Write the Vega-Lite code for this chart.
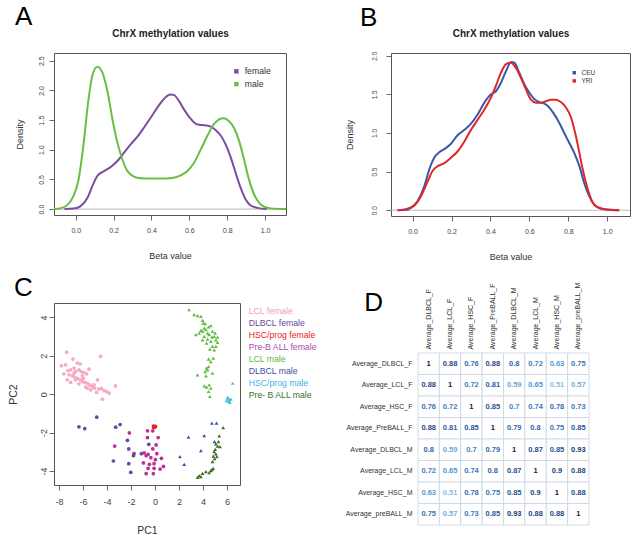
{
  "$schema": "https://vega.github.io/schema/vega-lite/v6.json",
  "background": "white",
  "padding": {"left": 7, "top": 3, "right": 5, "bottom": 5},
  "config": {
    "font": "Liberation Sans",
    "view": {"stroke": "#555555", "strokeWidth": 1},
    "axis": {"grid": false, "domain": false, "tickColor": "#666666", "tickSize": 5, "labelColor": "#444444", "titleColor": "#333333", "titleFontWeight": "normal", "labelFlush": false, "labelOverlap": false, "labelFont": "Liberation Sans", "titleFont": "Liberation Sans"},
    "legend": {"labelFont": "Liberation Sans"},
    "title": {"font": "Liberation Sans"}
  },
  "datasets": {
    "densA": [
      {"beta": -0.06, "density": 0, "sex": "female"}, {"beta": -0.01, "density": 0.01, "sex": "female"}, {"beta": 0.026, "density": 0.05, "sex": "female"}, {"beta": 0.062, "density": 0.19, "sex": "female"}, {"beta": 0.088, "density": 0.39, "sex": "female"}, {"beta": 0.114, "density": 0.56, "sex": "female"}, {"beta": 0.15, "density": 0.64, "sex": "female"}, {"beta": 0.185, "density": 0.71, "sex": "female"}, {"beta": 0.22, "density": 0.81, "sex": "female"}, {"beta": 0.255, "density": 0.95, "sex": "female"}, {"beta": 0.29, "density": 1.09, "sex": "female"}, {"beta": 0.326, "density": 1.22, "sex": "female"}, {"beta": 0.36, "density": 1.37, "sex": "female"}, {"beta": 0.396, "density": 1.54, "sex": "female"}, {"beta": 0.431, "density": 1.71, "sex": "female"}, {"beta": 0.467, "density": 1.86, "sex": "female"}, {"beta": 0.5, "density": 1.93, "sex": "female"}, {"beta": 0.52, "density": 1.92, "sex": "female"}, {"beta": 0.546, "density": 1.82, "sex": "female"}, {"beta": 0.572, "density": 1.68, "sex": "female"}, {"beta": 0.6, "density": 1.55, "sex": "female"}, {"beta": 0.625, "density": 1.46, "sex": "female"}, {"beta": 0.651, "density": 1.42, "sex": "female"}, {"beta": 0.687, "density": 1.41, "sex": "female"}, {"beta": 0.713, "density": 1.39, "sex": "female"}, {"beta": 0.74, "density": 1.33, "sex": "female"}, {"beta": 0.766, "density": 1.24, "sex": "female"}, {"beta": 0.792, "density": 1.09, "sex": "female"}, {"beta": 0.819, "density": 0.87, "sex": "female"}, {"beta": 0.845, "density": 0.61, "sex": "female"}, {"beta": 0.871, "density": 0.36, "sex": "female"}, {"beta": 0.898, "density": 0.16, "sex": "female"}, {"beta": 0.924, "density": 0.06, "sex": "female"}, {"beta": 0.96, "density": 0.02, "sex": "female"}, {"beta": 1.01, "density": 0, "sex": "female"},
      {"beta": -0.114, "density": 0, "sex": "male"}, {"beta": -0.079, "density": 0.015, "sex": "male"}, {"beta": -0.044, "density": 0.07, "sex": "male"}, {"beta": -0.015, "density": 0.2, "sex": "male"}, {"beta": 0.015, "density": 0.5, "sex": "male"}, {"beta": 0.04, "density": 1.06, "sex": "male"}, {"beta": 0.065, "density": 1.79, "sex": "male"}, {"beta": 0.09, "density": 2.28, "sex": "male"}, {"beta": 0.114, "density": 2.4, "sex": "male"}, {"beta": 0.141, "density": 2.3, "sex": "male"}, {"beta": 0.167, "density": 1.99, "sex": "male"}, {"beta": 0.194, "density": 1.51, "sex": "male"}, {"beta": 0.22, "density": 1.12, "sex": "male"}, {"beta": 0.246, "density": 0.84, "sex": "male"}, {"beta": 0.273, "density": 0.64, "sex": "male"}, {"beta": 0.308, "density": 0.545, "sex": "male"}, {"beta": 0.343, "density": 0.52, "sex": "male"}, {"beta": 0.4, "density": 0.515, "sex": "male"}, {"beta": 0.45, "density": 0.515, "sex": "male"}, {"beta": 0.51, "density": 0.525, "sex": "male"}, {"beta": 0.555, "density": 0.567, "sex": "male"}, {"beta": 0.59, "density": 0.64, "sex": "male"}, {"beta": 0.625, "density": 0.78, "sex": "male"}, {"beta": 0.66, "density": 1.0, "sex": "male"}, {"beta": 0.695, "density": 1.23, "sex": "male"}, {"beta": 0.73, "density": 1.43, "sex": "male"}, {"beta": 0.757, "density": 1.51, "sex": "male"}, {"beta": 0.783, "density": 1.53, "sex": "male"}, {"beta": 0.81, "density": 1.48, "sex": "male"}, {"beta": 0.836, "density": 1.37, "sex": "male"}, {"beta": 0.863, "density": 1.15, "sex": "male"}, {"beta": 0.889, "density": 0.84, "sex": "male"}, {"beta": 0.915, "density": 0.5, "sex": "male"}, {"beta": 0.942, "density": 0.25, "sex": "male"}, {"beta": 0.968, "density": 0.11, "sex": "male"}, {"beta": 0.995, "density": 0.04, "sex": "male"}, {"beta": 1.03, "density": 0.01, "sex": "male"}, {"beta": 1.111, "density": 0, "sex": "male"}
    ],
    "densB": [
      {"beta": -0.077, "density": 0, "pop": "CEU"}, {"beta": -0.03, "density": 0.005, "pop": "CEU"}, {"beta": -0.009, "density": 0.03, "pop": "CEU"}, {"beta": 0.026, "density": 0.12, "pop": "CEU"}, {"beta": 0.06, "density": 0.31, "pop": "CEU"}, {"beta": 0.086, "density": 0.53, "pop": "CEU"}, {"beta": 0.111, "density": 0.68, "pop": "CEU"}, {"beta": 0.137, "density": 0.75, "pop": "CEU"}, {"beta": 0.163, "density": 0.79, "pop": "CEU"}, {"beta": 0.197, "density": 0.86, "pop": "CEU"}, {"beta": 0.231, "density": 0.97, "pop": "CEU"}, {"beta": 0.266, "density": 1.04, "pop": "CEU"}, {"beta": 0.3, "density": 1.12, "pop": "CEU"}, {"beta": 0.334, "density": 1.24, "pop": "CEU"}, {"beta": 0.368, "density": 1.39, "pop": "CEU"}, {"beta": 0.403, "density": 1.5, "pop": "CEU"}, {"beta": 0.428, "density": 1.54, "pop": "CEU"}, {"beta": 0.454, "density": 1.65, "pop": "CEU"}, {"beta": 0.48, "density": 1.8, "pop": "CEU"}, {"beta": 0.506, "density": 1.92, "pop": "CEU"}, {"beta": 0.523, "density": 1.91, "pop": "CEU"}, {"beta": 0.548, "density": 1.78, "pop": "CEU"}, {"beta": 0.574, "density": 1.63, "pop": "CEU"}, {"beta": 0.6, "density": 1.52, "pop": "CEU"}, {"beta": 0.625, "density": 1.44, "pop": "CEU"}, {"beta": 0.651, "density": 1.4, "pop": "CEU"}, {"beta": 0.677, "density": 1.38, "pop": "CEU"}, {"beta": 0.702, "density": 1.33, "pop": "CEU"}, {"beta": 0.728, "density": 1.24, "pop": "CEU"}, {"beta": 0.754, "density": 1.13, "pop": "CEU"}, {"beta": 0.779, "density": 1.0, "pop": "CEU"}, {"beta": 0.805, "density": 0.87, "pop": "CEU"}, {"beta": 0.831, "density": 0.74, "pop": "CEU"}, {"beta": 0.857, "density": 0.57, "pop": "CEU"}, {"beta": 0.882, "density": 0.35, "pop": "CEU"}, {"beta": 0.908, "density": 0.18, "pop": "CEU"}, {"beta": 0.934, "density": 0.07, "pop": "CEU"}, {"beta": 0.968, "density": 0.02, "pop": "CEU"}, {"beta": 1.02, "density": 0.005, "pop": "CEU"}, {"beta": 1.06, "density": 0, "pop": "CEU"},
      {"beta": -0.077, "density": 0, "pop": "YRI"}, {"beta": -0.026, "density": 0.02, "pop": "YRI"}, {"beta": 0.009, "density": 0.06, "pop": "YRI"}, {"beta": 0.043, "density": 0.18, "pop": "YRI"}, {"beta": 0.077, "density": 0.37, "pop": "YRI"}, {"beta": 0.103, "density": 0.51, "pop": "YRI"}, {"beta": 0.129, "density": 0.57, "pop": "YRI"}, {"beta": 0.163, "density": 0.61, "pop": "YRI"}, {"beta": 0.197, "density": 0.68, "pop": "YRI"}, {"beta": 0.231, "density": 0.76, "pop": "YRI"}, {"beta": 0.266, "density": 0.89, "pop": "YRI"}, {"beta": 0.3, "density": 1.04, "pop": "YRI"}, {"beta": 0.334, "density": 1.17, "pop": "YRI"}, {"beta": 0.368, "density": 1.3, "pop": "YRI"}, {"beta": 0.403, "density": 1.46, "pop": "YRI"}, {"beta": 0.428, "density": 1.61, "pop": "YRI"}, {"beta": 0.454, "density": 1.78, "pop": "YRI"}, {"beta": 0.48, "density": 1.89, "pop": "YRI"}, {"beta": 0.506, "density": 1.91, "pop": "YRI"}, {"beta": 0.531, "density": 1.84, "pop": "YRI"}, {"beta": 0.557, "density": 1.71, "pop": "YRI"}, {"beta": 0.583, "density": 1.56, "pop": "YRI"}, {"beta": 0.608, "density": 1.43, "pop": "YRI"}, {"beta": 0.634, "density": 1.39, "pop": "YRI"}, {"beta": 0.66, "density": 1.39, "pop": "YRI"}, {"beta": 0.685, "density": 1.41, "pop": "YRI"}, {"beta": 0.711, "density": 1.43, "pop": "YRI"}, {"beta": 0.737, "density": 1.43, "pop": "YRI"}, {"beta": 0.762, "density": 1.4, "pop": "YRI"}, {"beta": 0.788, "density": 1.33, "pop": "YRI"}, {"beta": 0.814, "density": 1.2, "pop": "YRI"}, {"beta": 0.839, "density": 0.96, "pop": "YRI"}, {"beta": 0.857, "density": 0.74, "pop": "YRI"}, {"beta": 0.874, "density": 0.53, "pop": "YRI"}, {"beta": 0.9, "density": 0.27, "pop": "YRI"}, {"beta": 0.925, "density": 0.1, "pop": "YRI"}, {"beta": 0.951, "density": 0.04, "pop": "YRI"}, {"beta": 0.994, "density": 0.01, "pop": "YRI"}, {"beta": 1.062, "density": 0, "pop": "YRI"}
    ],
    "pca": [
      {"pc1": -7.36, "pc2": 2.19, "group": "LCL female"}, {"pc1": -6.83, "pc2": 1.83, "group": "LCL female"}, {"pc1": -6.47, "pc2": 1.62, "group": "LCL female"}, {"pc1": -6.24, "pc2": 1.58, "group": "LCL female"}, {"pc1": -7.8, "pc2": 1.48, "group": "LCL female"}, {"pc1": -7.44, "pc2": 1.53, "group": "LCL female"}, {"pc1": -7.25, "pc2": 1.23, "group": "LCL female"}, {"pc1": -7.02, "pc2": 1.27, "group": "LCL female"}, {"pc1": -6.74, "pc2": 1.36, "group": "LCL female"}, {"pc1": -6.61, "pc2": 1.18, "group": "LCL female"}, {"pc1": -6.33, "pc2": 1.27, "group": "LCL female"}, {"pc1": -6.13, "pc2": 1.18, "group": "LCL female"}, {"pc1": -5.91, "pc2": 1.13, "group": "LCL female"}, {"pc1": -5.69, "pc2": 1.06, "group": "LCL female"}, {"pc1": -5.49, "pc2": 1.3, "group": "LCL female"}, {"pc1": -4.52, "pc2": 1.97, "group": "LCL female"}, {"pc1": -7.58, "pc2": 1.06, "group": "LCL female"}, {"pc1": -7.16, "pc2": 1.01, "group": "LCL female"}, {"pc1": -6.88, "pc2": 0.96, "group": "LCL female"}, {"pc1": -6.69, "pc2": 0.89, "group": "LCL female"}, {"pc1": -6.47, "pc2": 0.82, "group": "LCL female"}, {"pc1": -6.24, "pc2": 0.75, "group": "LCL female"}, {"pc1": -6.05, "pc2": 0.66, "group": "LCL female"}, {"pc1": -5.85, "pc2": 0.61, "group": "LCL female"}, {"pc1": -5.63, "pc2": 0.57, "group": "LCL female"}, {"pc1": -5.41, "pc2": 0.47, "group": "LCL female"}, {"pc1": -5.21, "pc2": 0.4, "group": "LCL female"}, {"pc1": -5.02, "pc2": 0.31, "group": "LCL female"}, {"pc1": -4.79, "pc2": 0.75, "group": "LCL female"}, {"pc1": -4.66, "pc2": 0.26, "group": "LCL female"}, {"pc1": -4.46, "pc2": 0.3, "group": "LCL female"}, {"pc1": -4.24, "pc2": 0.19, "group": "LCL female"}, {"pc1": -4.02, "pc2": 0.14, "group": "LCL female"}, {"pc1": -3.82, "pc2": 0.05, "group": "LCL female"}, {"pc1": -3.29, "pc2": 0.43, "group": "LCL female"}, {"pc1": -4.38, "pc2": -0.26, "group": "LCL female"}, {"pc1": -7.3, "pc2": 0.75, "group": "LCL female"}, {"pc1": -7.02, "pc2": 0.61, "group": "LCL female"}, {"pc1": -6.61, "pc2": 0.75, "group": "LCL female"}, {"pc1": -6.33, "pc2": 0.54, "group": "LCL female"}, {"pc1": -5.97, "pc2": 0.83, "group": "LCL female"}, {"pc1": -5.77, "pc2": 0.37, "group": "LCL female"}, {"pc1": -5.35, "pc2": 0.23, "group": "LCL female"}, {"pc1": -5.08, "pc2": 0.49, "group": "LCL female"}, {"pc1": -5.63, "pc2": 0.31, "group": "LCL female"}, {"pc1": -4.86, "pc2": 0.09, "group": "LCL female"}, {"pc1": -6.74, "pc2": 1.1, "group": "LCL female"}, {"pc1": -6.05, "pc2": 0.96, "group": "LCL female"},
      {"pc1": -6.33, "pc2": -1.7, "group": "DLBCL female"}, {"pc1": -5.85, "pc2": -1.79, "group": "DLBCL female"}, {"pc1": -4.85, "pc2": -1.2, "group": "DLBCL female"}, {"pc1": -3.27, "pc2": -1.72, "group": "DLBCL female"}, {"pc1": -2.9, "pc2": -1.58, "group": "DLBCL female"}, {"pc1": -2.29, "pc2": -2.4, "group": "DLBCL female"}, {"pc1": -3.46, "pc2": -3.48, "group": "DLBCL female"}, {"pc1": -2.18, "pc2": -2.85, "group": "DLBCL female"}, {"pc1": -1.79, "pc2": -3.2, "group": "DLBCL female"}, {"pc1": -1.74, "pc2": -3.1, "group": "DLBCL female"}, {"pc1": -2.18, "pc2": -3.62, "group": "DLBCL female"}, {"pc1": -2.01, "pc2": -4.07, "group": "DLBCL female"}, {"pc1": -0.51, "pc2": -2.61, "group": "DLBCL female"}, {"pc1": -1.13, "pc2": -3.1, "group": "DLBCL female"},
      {"pc1": -0.12, "pc2": -1.66, "group": "HSC/prog female"}, {"pc1": 0.0, "pc2": -1.7, "group": "HSC/prog female"}, {"pc1": -0.05, "pc2": -1.72, "group": "HSC/prog female"}, {"pc1": 0.05, "pc2": -1.68, "group": "HSC/prog female"}, {"pc1": -0.1, "pc2": -1.73, "group": "HSC/prog female"},
      {"pc1": -2.13, "pc2": -2.02, "group": "Pre-B ALL female"}, {"pc1": -3.35, "pc2": -2.7, "group": "Pre-B ALL female"}, {"pc1": -0.62, "pc2": -1.91, "group": "Pre-B ALL female"}, {"pc1": -0.18, "pc2": -1.91, "group": "Pre-B ALL female"}, {"pc1": -0.62, "pc2": -2.26, "group": "Pre-B ALL female"}, {"pc1": 0.27, "pc2": -2.26, "group": "Pre-B ALL female"}, {"pc1": 0.1, "pc2": -2.64, "group": "Pre-B ALL female"}, {"pc1": -0.18, "pc2": -2.85, "group": "Pre-B ALL female"}, {"pc1": -0.9, "pc2": -3.06, "group": "Pre-B ALL female"}, {"pc1": -0.57, "pc2": -3.13, "group": "Pre-B ALL female"}, {"pc1": -0.73, "pc2": -3.2, "group": "Pre-B ALL female"}, {"pc1": 0.16, "pc2": -3.1, "group": "Pre-B ALL female"}, {"pc1": -0.34, "pc2": -3.31, "group": "Pre-B ALL female"}, {"pc1": 0.04, "pc2": -3.41, "group": "Pre-B ALL female"}, {"pc1": 0.54, "pc2": -3.34, "group": "Pre-B ALL female"}, {"pc1": -0.96, "pc2": -3.58, "group": "Pre-B ALL female"}, {"pc1": -0.46, "pc2": -3.65, "group": "Pre-B ALL female"}, {"pc1": -0.07, "pc2": -3.62, "group": "Pre-B ALL female"}, {"pc1": 0.43, "pc2": -3.9, "group": "Pre-B ALL female"}, {"pc1": 0.71, "pc2": -3.76, "group": "Pre-B ALL female"}, {"pc1": -0.57, "pc2": -3.86, "group": "Pre-B ALL female"}, {"pc1": -0.07, "pc2": -3.86, "group": "Pre-B ALL female"}, {"pc1": -0.73, "pc2": -4.14, "group": "Pre-B ALL female"}, {"pc1": -0.13, "pc2": -4.14, "group": "Pre-B ALL female"},
      {"pc1": 2.85, "pc2": 4.4, "group": "LCL male"}, {"pc1": 3.27, "pc2": 4.14, "group": "LCL male"}, {"pc1": 3.55, "pc2": 4.09, "group": "LCL male"}, {"pc1": 3.83, "pc2": 4.05, "group": "LCL male"}, {"pc1": 3.97, "pc2": 3.84, "group": "LCL male"}, {"pc1": 4.02, "pc2": 3.7, "group": "LCL male"}, {"pc1": 3.41, "pc2": 3.1, "group": "LCL male"}, {"pc1": 3.69, "pc2": 3.18, "group": "LCL male"}, {"pc1": 3.97, "pc2": 3.27, "group": "LCL male"}, {"pc1": 4.11, "pc2": 3.44, "group": "LCL male"}, {"pc1": 4.25, "pc2": 3.36, "group": "LCL male"}, {"pc1": 4.47, "pc2": 3.5, "group": "LCL male"}, {"pc1": 4.66, "pc2": 3.57, "group": "LCL male"}, {"pc1": 4.39, "pc2": 3.18, "group": "LCL male"}, {"pc1": 4.52, "pc2": 3.1, "group": "LCL male"}, {"pc1": 4.8, "pc2": 3.27, "group": "LCL male"}, {"pc1": 4.94, "pc2": 3.01, "group": "LCL male"}, {"pc1": 5.08, "pc2": 2.83, "group": "LCL male"}, {"pc1": 5.22, "pc2": 2.7, "group": "LCL male"}, {"pc1": 4.11, "pc2": 3.01, "group": "LCL male"}, {"pc1": 4.39, "pc2": 2.87, "group": "LCL male"}, {"pc1": 4.66, "pc2": 2.75, "group": "LCL male"}, {"pc1": 4.8, "pc2": 2.49, "group": "LCL male"}, {"pc1": 4.94, "pc2": 2.31, "group": "LCL male"}, {"pc1": 5.08, "pc2": 2.49, "group": "LCL male"}, {"pc1": 5.22, "pc2": 2.97, "group": "LCL male"}, {"pc1": 4.75, "pc2": 2.97, "group": "LCL male"}, {"pc1": 4.3, "pc2": 2.66, "group": "LCL male"}, {"pc1": 4.58, "pc2": 2.35, "group": "LCL male"}, {"pc1": 4.86, "pc2": 1.88, "group": "LCL male"}, {"pc1": 4.47, "pc2": 1.83, "group": "LCL male"}, {"pc1": 4.66, "pc2": 1.7, "group": "LCL male"}, {"pc1": 4.3, "pc2": 1.36, "group": "LCL male"}, {"pc1": 4.47, "pc2": 1.44, "group": "LCL male"}, {"pc1": 4.8, "pc2": 1.1, "group": "LCL male"}, {"pc1": 4.19, "pc2": 1.18, "group": "LCL male"}, {"pc1": 3.55, "pc2": 1.01, "group": "LCL male"}, {"pc1": 4.25, "pc2": 0.96, "group": "LCL male"}, {"pc1": 4.11, "pc2": 0.43, "group": "LCL male"}, {"pc1": 4.52, "pc2": 0.49, "group": "LCL male"}, {"pc1": 4.66, "pc2": 0.31, "group": "LCL male"}, {"pc1": 4.47, "pc2": 0.14, "group": "LCL male"}, {"pc1": 4.58, "pc2": -0.12, "group": "LCL male"}, {"pc1": 4.3, "pc2": 0.37, "group": "LCL male"}, {"pc1": 4.39, "pc2": 1.27, "group": "LCL male"}, {"pc1": 3.97, "pc2": 2.83, "group": "LCL male"}, {"pc1": 3.83, "pc2": 3.32, "group": "LCL male"}, {"pc1": 5.02, "pc2": 3.18, "group": "LCL male"}, {"pc1": 4.19, "pc2": 3.67, "group": "LCL male"},
      {"pc1": 4.75, "pc2": -1.51, "group": "DLBCL male"}, {"pc1": 5.13, "pc2": -1.51, "group": "DLBCL male"}, {"pc1": 2.8, "pc2": -2.24, "group": "DLBCL male"}, {"pc1": 4.11, "pc2": -2.16, "group": "DLBCL male"}, {"pc1": 3.83, "pc2": -2.94, "group": "DLBCL male"}, {"pc1": 2.08, "pc2": -3.25, "group": "DLBCL male"}, {"pc1": 2.44, "pc2": -3.65, "group": "DLBCL male"}, {"pc1": 4.97, "pc2": -2.47, "group": "DLBCL male"},
      {"pc1": 6.48, "pc2": 0.57, "group": "HSC/prog male"}, {"pc1": 6.05, "pc2": -0.21, "group": "HSC/prog male"}, {"pc1": 6.19, "pc2": -0.3, "group": "HSC/prog male"}, {"pc1": 5.97, "pc2": -0.33, "group": "HSC/prog male"}, {"pc1": 6.14, "pc2": -0.38, "group": "HSC/prog male"}, {"pc1": 6.33, "pc2": -0.26, "group": "HSC/prog male"}, {"pc1": 6.08, "pc2": -0.16, "group": "HSC/prog male"}, {"pc1": 6.25, "pc2": -0.43, "group": "HSC/prog male"},
      {"pc1": 5.69, "pc2": -1.74, "group": "Pre- B ALL male"}, {"pc1": 5.36, "pc2": -2.17, "group": "Pre- B ALL male"}, {"pc1": 5.3, "pc2": -2.47, "group": "Pre- B ALL male"}, {"pc1": 5.22, "pc2": -2.7, "group": "Pre- B ALL male"}, {"pc1": 5.08, "pc2": -2.59, "group": "Pre- B ALL male"}, {"pc1": 5.42, "pc2": -2.73, "group": "Pre- B ALL male"}, {"pc1": 5.02, "pc2": -2.87, "group": "Pre- B ALL male"}, {"pc1": 4.94, "pc2": -2.99, "group": "Pre- B ALL male"}, {"pc1": 5.08, "pc2": -3.11, "group": "Pre- B ALL male"}, {"pc1": 4.86, "pc2": -3.22, "group": "Pre- B ALL male"}, {"pc1": 4.97, "pc2": -3.36, "group": "Pre- B ALL male"}, {"pc1": 4.8, "pc2": -3.51, "group": "Pre- B ALL male"}, {"pc1": 4.86, "pc2": -3.86, "group": "Pre- B ALL male"}, {"pc1": 4.66, "pc2": -3.98, "group": "Pre- B ALL male"}, {"pc1": 4.52, "pc2": -4.09, "group": "Pre- B ALL male"}, {"pc1": 4.25, "pc2": -4.03, "group": "Pre- B ALL male"}, {"pc1": 3.97, "pc2": -4.12, "group": "Pre- B ALL male"}, {"pc1": 3.69, "pc2": -4.24, "group": "Pre- B ALL male"}, {"pc1": 3.55, "pc2": -4.33, "group": "Pre- B ALL male"}, {"pc1": 3.83, "pc2": -4.3, "group": "Pre- B ALL male"}, {"pc1": 5.16, "pc2": -3.25, "group": "Pre- B ALL male"}, {"pc1": 4.75, "pc2": -3.93, "group": "Pre- B ALL male"}
    ],
    "corr": [
      {"row": "Average_DLBCL_F", "col": "Average_DLBCL_F", "r": 1}, {"row": "Average_DLBCL_F", "col": "Average_LCL_F", "r": 0.88}, {"row": "Average_DLBCL_F", "col": "Average_HSC_F", "r": 0.76}, {"row": "Average_DLBCL_F", "col": "Average_PreBALL_F", "r": 0.88}, {"row": "Average_DLBCL_F", "col": "Average_DLBCL_M", "r": 0.8}, {"row": "Average_DLBCL_F", "col": "Average_LCL_M", "r": 0.72}, {"row": "Average_DLBCL_F", "col": "Average_HSC_M", "r": 0.63}, {"row": "Average_DLBCL_F", "col": "Average_preBALL_M", "r": 0.75},
      {"row": "Average_LCL_F", "col": "Average_DLBCL_F", "r": 0.88}, {"row": "Average_LCL_F", "col": "Average_LCL_F", "r": 1}, {"row": "Average_LCL_F", "col": "Average_HSC_F", "r": 0.72}, {"row": "Average_LCL_F", "col": "Average_PreBALL_F", "r": 0.81}, {"row": "Average_LCL_F", "col": "Average_DLBCL_M", "r": 0.59}, {"row": "Average_LCL_F", "col": "Average_LCL_M", "r": 0.65}, {"row": "Average_LCL_F", "col": "Average_HSC_M", "r": 0.51}, {"row": "Average_LCL_F", "col": "Average_preBALL_M", "r": 0.57},
      {"row": "Average_HSC_F", "col": "Average_DLBCL_F", "r": 0.76}, {"row": "Average_HSC_F", "col": "Average_LCL_F", "r": 0.72}, {"row": "Average_HSC_F", "col": "Average_HSC_F", "r": 1}, {"row": "Average_HSC_F", "col": "Average_PreBALL_F", "r": 0.85}, {"row": "Average_HSC_F", "col": "Average_DLBCL_M", "r": 0.7}, {"row": "Average_HSC_F", "col": "Average_LCL_M", "r": 0.74}, {"row": "Average_HSC_F", "col": "Average_HSC_M", "r": 0.78}, {"row": "Average_HSC_F", "col": "Average_preBALL_M", "r": 0.73},
      {"row": "Average_PreBALL_F", "col": "Average_DLBCL_F", "r": 0.88}, {"row": "Average_PreBALL_F", "col": "Average_LCL_F", "r": 0.81}, {"row": "Average_PreBALL_F", "col": "Average_HSC_F", "r": 0.85}, {"row": "Average_PreBALL_F", "col": "Average_PreBALL_F", "r": 1}, {"row": "Average_PreBALL_F", "col": "Average_DLBCL_M", "r": 0.79}, {"row": "Average_PreBALL_F", "col": "Average_LCL_M", "r": 0.8}, {"row": "Average_PreBALL_F", "col": "Average_HSC_M", "r": 0.75}, {"row": "Average_PreBALL_F", "col": "Average_preBALL_M", "r": 0.85},
      {"row": "Average_DLBCL_M", "col": "Average_DLBCL_F", "r": 0.8}, {"row": "Average_DLBCL_M", "col": "Average_LCL_F", "r": 0.59}, {"row": "Average_DLBCL_M", "col": "Average_HSC_F", "r": 0.7}, {"row": "Average_DLBCL_M", "col": "Average_PreBALL_F", "r": 0.79}, {"row": "Average_DLBCL_M", "col": "Average_DLBCL_M", "r": 1}, {"row": "Average_DLBCL_M", "col": "Average_LCL_M", "r": 0.87}, {"row": "Average_DLBCL_M", "col": "Average_HSC_M", "r": 0.85}, {"row": "Average_DLBCL_M", "col": "Average_preBALL_M", "r": 0.93},
      {"row": "Average_LCL_M", "col": "Average_DLBCL_F", "r": 0.72}, {"row": "Average_LCL_M", "col": "Average_LCL_F", "r": 0.65}, {"row": "Average_LCL_M", "col": "Average_HSC_F", "r": 0.74}, {"row": "Average_LCL_M", "col": "Average_PreBALL_F", "r": 0.8}, {"row": "Average_LCL_M", "col": "Average_DLBCL_M", "r": 0.87}, {"row": "Average_LCL_M", "col": "Average_LCL_M", "r": 1}, {"row": "Average_LCL_M", "col": "Average_HSC_M", "r": 0.9}, {"row": "Average_LCL_M", "col": "Average_preBALL_M", "r": 0.88},
      {"row": "Average_HSC_M", "col": "Average_DLBCL_F", "r": 0.63}, {"row": "Average_HSC_M", "col": "Average_LCL_F", "r": 0.51}, {"row": "Average_HSC_M", "col": "Average_HSC_F", "r": 0.78}, {"row": "Average_HSC_M", "col": "Average_PreBALL_F", "r": 0.75}, {"row": "Average_HSC_M", "col": "Average_DLBCL_M", "r": 0.85}, {"row": "Average_HSC_M", "col": "Average_LCL_M", "r": 0.9}, {"row": "Average_HSC_M", "col": "Average_HSC_M", "r": 1}, {"row": "Average_HSC_M", "col": "Average_preBALL_M", "r": 0.88},
      {"row": "Average_preBALL_M", "col": "Average_DLBCL_F", "r": 0.75}, {"row": "Average_preBALL_M", "col": "Average_LCL_F", "r": 0.57}, {"row": "Average_preBALL_M", "col": "Average_HSC_F", "r": 0.73}, {"row": "Average_preBALL_M", "col": "Average_PreBALL_F", "r": 0.85}, {"row": "Average_preBALL_M", "col": "Average_DLBCL_M", "r": 0.93}, {"row": "Average_preBALL_M", "col": "Average_LCL_M", "r": 0.88}, {"row": "Average_preBALL_M", "col": "Average_HSC_M", "r": 0.88}, {"row": "Average_preBALL_M", "col": "Average_preBALL_M", "r": 1}
    ]
  },
  "spacing": 25,
  "resolve": {"scale": {"color": "independent", "shape": "independent", "size": "independent"}, "legend": {"color": "independent", "shape": "independent", "size": "independent"}},
  "hconcat": [
    {
      "spacing": 13,
      "resolve": {"scale": {"color": "independent", "shape": "independent", "size": "independent"}, "legend": {"color": "independent", "shape": "independent", "size": "independent"}},
      "vconcat": [
        {
          "width": 232, "height": 162,
          "title": {"text": "A", "anchor": "start", "fontSize": 26, "fontWeight": "normal", "color": "#000000", "offset": -2, "dx": 0},
          "data": {"name": "densA"},
          "layer": [
            {
              "data": {"values": [{}]},
              "mark": {"type": "rule", "color": "#bbbbbb", "strokeWidth": 1},
              "encoding": {
                "x": {"datum": -0.115, "type": "quantitative", "axis": {"orient": "top", "title": "ChrX methylation values", "labels": false, "ticks": false, "titleFontSize": 10, "titleFontWeight": "bold", "titleColor": "#222222", "titlePadding": 15}},
                "x2": {"datum": 1.111},
                "y": {"datum": 0, "type": "quantitative", "axis": null}
              }
            },
            {
              "mark": {"type": "line", "strokeWidth": 2, "interpolate": "monotone"},
              "encoding": {
                "x": {"field": "beta", "type": "quantitative", "scale": {"domain": [-0.115, 1.111], "nice": false, "zero": false}, "axis": {"values": [0, 0.2, 0.4, 0.6, 0.8, 1.0], "format": ".1f", "title": "Beta value", "labelFontSize": 7, "labelPadding": 6, "titleFontSize": 9, "titlePadding": 18}},
                "y": {"field": "density", "type": "quantitative", "scale": {"domain": [-0.1, 2.63], "nice": false, "zero": false}, "axis": {"values": [0, 0.5, 1, 1.5, 2, 2.5], "format": ".1f", "labelAngle": -90, "title": "Density", "labelFontSize": 7, "labelPadding": 5, "titleFontSize": 9, "titlePadding": 13}},
                "color": {"field": "sex", "type": "nominal", "scale": {"domain": ["female", "male"], "range": ["#7b4ea3", "#6cbd45"]}, "legend": {"orient": "none", "legendX": 178, "legendY": 14, "title": null, "symbolType": "square", "symbolSize": 20, "symbolStrokeWidth": 0, "labelFontSize": 8.7, "labelColor": "#333333", "rowPadding": 2.8, "labelOffset": 4, "encoding": {"symbols": {"fill": {"condition": {"test": "datum.value === 'female'", "value": "#7b4ea3"}, "value": "#6cbd45"}}}}}
              }
            }
          ],
          "resolve": {"axis": {"x": "independent", "y": "independent"}}
        },
        {
          "width": 186, "height": 182,
          "title": {"text": "C", "anchor": "start", "fontSize": 26, "fontWeight": "normal", "color": "#000000", "offset": 2, "dx": 6},
          "data": {"name": "pca"},
          "mark": {"type": "point", "filled": true, "opacity": 1},
          "encoding": {
            "x": {"field": "pc1", "type": "quantitative", "scale": {"domain": [-8.41, 7.09], "nice": false, "zero": false}, "axis": {"values": [-8, -6, -4, -2, 0, 2, 4, 6], "labelExpr": "'' + datum.value", "title": "PC1", "labelFontSize": 9, "labelPadding": 7, "titleFontSize": 10.5, "titlePadding": 19}},
            "y": {"field": "pc2", "type": "quantitative", "scale": {"domain": [-4.73, 4.75], "nice": false, "zero": false}, "axis": {"values": [-4, -2, 0, 2, 4], "labelExpr": "'' + datum.value", "labelAngle": -90, "title": "PC2", "labelFontSize": 9, "labelPadding": 1, "titleFontSize": 10.5, "titlePadding": 21}},
            "color": {"field": "group", "type": "nominal", "scale": {"domain": ["LCL female", "DLBCL female", "HSC/prog female", "Pre-B ALL female", "LCL male", "DLBCL male", "HSC/prog male", "Pre- B ALL male"], "range": ["#f5aac6", "#6a48a0", "#e8231f", "#bb3093", "#5cbb3e", "#3a4ea6", "#44c0d6", "#3d6b1f"]}, "legend": {"orient": "none", "legendX": 186, "legendY": 4, "title": null, "symbolSize": 0, "symbolOpacity": 0, "symbolStrokeWidth": 0, "labelOffset": 0, "labelFontSize": 8.7, "rowPadding": 2, "encoding": {"labels": {"fill": {"condition": [{"test": "datum.value === 'LCL female'", "value": "#f29bbe"}, {"test": "datum.value === 'DLBCL female'", "value": "#6a48a0"}, {"test": "datum.value === 'HSC/prog female'", "value": "#e8231f"}, {"test": "datum.value === 'Pre-B ALL female'", "value": "#b046aa"}, {"test": "datum.value === 'LCL male'", "value": "#5cbb3e"}, {"test": "datum.value === 'DLBCL male'", "value": "#3a4ea6"}, {"test": "datum.value === 'HSC/prog male'", "value": "#3fb4e4"}], "value": "#3d6b1f"}}}}},
            "shape": {"field": "group", "type": "nominal", "scale": {"domain": ["LCL female", "DLBCL female", "HSC/prog female", "Pre-B ALL female", "LCL male", "DLBCL male", "HSC/prog male", "Pre- B ALL male"], "range": ["circle", "circle", "circle", "circle", "triangle-up", "triangle-up", "triangle-up", "triangle-up"]}, "legend": null},
            "size": {"field": "group", "type": "nominal", "scale": {"domain": ["LCL female", "DLBCL female", "HSC/prog female", "Pre-B ALL female", "LCL male", "DLBCL male", "HSC/prog male", "Pre- B ALL male"], "range": [14, 14, 14, 14, 42, 42, 42, 42]}, "legend": null}
          }
        }
      ]
    },
    {
      "spacing": 20,
      "resolve": {"scale": {"color": "independent"}, "legend": {"color": "independent"}},
      "vconcat": [
        {
          "width": 239, "height": 163,
          "title": {"text": "B", "anchor": "start", "fontSize": 26, "fontWeight": "normal", "color": "#000000", "offset": -2, "dx": 15},
          "data": {"name": "densB"},
          "layer": [
            {
              "data": {"values": [{}]},
              "mark": {"type": "rule", "color": "#bbbbbb", "strokeWidth": 1},
              "encoding": {
                "x": {"datum": -0.111, "type": "quantitative", "axis": {"orient": "top", "title": "ChrX methylation values", "labels": false, "ticks": false, "titleFontSize": 10, "titleFontWeight": "bold", "titleColor": "#222222", "titlePadding": 14.5}},
                "x2": {"datum": 1.117},
                "y": {"datum": 0, "type": "quantitative", "axis": null}
              }
            },
            {
              "mark": {"type": "line", "strokeWidth": 2, "interpolate": "monotone"},
              "encoding": {
                "x": {"field": "beta", "type": "quantitative", "scale": {"domain": [-0.111, 1.117], "nice": false, "zero": false}, "axis": {"values": [0, 0.2, 0.4, 0.6, 0.8, 1.0], "format": ".1f", "title": "Beta value", "labelFontSize": 7, "labelPadding": 6, "titleFontSize": 9, "titlePadding": 18}},
                "y": {"field": "density", "type": "quantitative", "scale": {"domain": [-0.075, 2.035], "nice": false, "zero": false}, "axis": {"values": [0, 0.5, 1, 1.5, 2], "format": ".1f", "labelAngle": -90, "title": "Density", "labelFontSize": 6.5, "labelPadding": 8.4, "titleFontSize": 9, "titlePadding": 17.5}},
                "color": {"field": "pop", "type": "nominal", "scale": {"domain": ["CEU", "YRI"], "range": ["#3a58a8", "#e0262c"]}, "legend": {"orient": "none", "legendX": 180, "legendY": 16.5, "title": null, "symbolType": "square", "symbolSize": 12, "symbolStrokeWidth": 0, "labelFontSize": 6.5, "labelColor": "#333333", "rowPadding": 1.1, "labelOffset": 4, "encoding": {"symbols": {"fill": {"condition": {"test": "datum.value === 'CEU'", "value": "#3a58a8"}, "value": "#e0262c"}}}}}
              }
            }
          ],
          "resolve": {"axis": {"x": "independent", "y": "independent"}}
        },
        {
          "width": 198, "height": 172,
          "title": {"text": "D", "anchor": "start", "fontSize": 26, "fontWeight": "normal", "color": "#000000", "offset": -34, "dx": 19},
          "view": {"stroke": null},
          "data": {"name": "corr"},
          "encoding": {
            "x": {"field": "col", "type": "nominal", "sort": ["Average_DLBCL_F", "Average_LCL_F", "Average_HSC_F", "Average_PreBALL_F", "Average_DLBCL_M", "Average_LCL_M", "Average_HSC_M", "Average_preBALL_M"], "scale": {"paddingInner": 0, "paddingOuter": 0, "range": [27, 198]}, "axis": {"orient": "top", "labelAngle": -90, "title": null, "ticks": false, "labelPadding": 4, "labelFontSize": 7, "labelColor": "#333333"}},
            "y": {"field": "row", "type": "nominal", "sort": ["Average_DLBCL_F", "Average_LCL_F", "Average_HSC_F", "Average_PreBALL_F", "Average_DLBCL_M", "Average_LCL_M", "Average_HSC_M", "Average_preBALL_M"], "scale": {"paddingInner": 0, "paddingOuter": 0}, "axis": {"offset": -27, "title": null, "ticks": false, "labelPadding": 6, "labelFontSize": 7, "labelColor": "#333333"}}
          },
          "layer": [
            {"mark": {"type": "rect", "fill": "#ffffff", "stroke": "#c8d4e0", "strokeWidth": 0.8}},
            {"mark": {"type": "text", "fontWeight": "bold", "fontSize": 7.5}, "encoding": {"text": {"field": "r", "type": "quantitative"}, "color": {"field": "r", "type": "quantitative", "scale": {"domain": [0.5, 0.65, 0.8, 0.9, 1], "range": ["#8ec3e6", "#4f96d0", "#2f64a8", "#23427f", "#16203f"]}, "legend": null}}}
          ]
        }
      ]
    }
  ]
}
